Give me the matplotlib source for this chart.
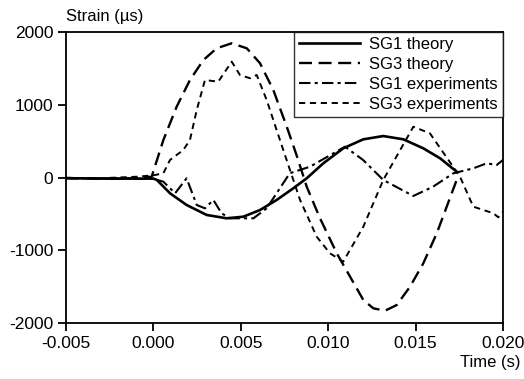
import matplotlib
matplotlib.use("Agg")
import matplotlib.pyplot as plt

plt.rcParams['font.family'] = ['Liberation Sans', 'DejaVu Sans']

# SG1 theory (solid)
t_sg1_th = [-0.005, -0.003, -0.001, 0.0, 0.0002, 0.00095, 0.0019, 0.00305, 0.00419, 0.00514,
            0.0061, 0.00705, 0.008, 0.00877, 0.00972, 0.01086, 0.01201, 0.01315, 0.0143,
            0.01544, 0.0164, 0.01735]
s_sg1_th = [-10, -15, -15, -15, -34, -217, -378, -515, -561, -539,
            -447, -309, -149, -11, 195, 401, 525, 570, 525,
            401, 264, 80]

# SG3 theory (long dash)
t_sg3_th = [-0.005, -0.003, -0.001, -0.0001, 0.00057, 0.00133, 0.00209, 0.00286, 0.00362,
            0.00448, 0.00534, 0.0061, 0.00686, 0.00763, 0.0082, 0.00877, 0.00953, 0.01049,
            0.01125, 0.01201, 0.01258, 0.01325, 0.01392, 0.01468, 0.01544, 0.01621, 0.01678,
            0.01735]
s_sg3_th = [-10, -15, -10, 11, 515, 973, 1340, 1615, 1776,
            1845, 1776, 1570, 1203, 698, 300, -126, -560, -1042,
            -1363, -1684, -1798, -1831, -1753, -1501, -1180, -767, -401,
            -34]

# SG1 experiments (dash-dot)
t_sg1_ex = [-0.005, -0.003, -0.001, 0.0, 0.00057, 0.00124, 0.0019, 0.00248, 0.00295, 0.00343,
            0.0039, 0.00438, 0.00572, 0.00648, 0.0078, 0.00896, 0.01096, 0.0120, 0.01315,
            0.01487, 0.0160, 0.01716, 0.0183, 0.01907, 0.01964, 0.02]
s_sg1_ex = [-5, -15, -20, -20, -57, -217, -11, -378, -424, -309,
            -492, -561, -561, -424, 58, 149, 423, 240, -34,
            -254, -126, 58, 126, 195, 172, 241]

# SG3 experiments (short dash)
t_sg3_ex = [-0.005, -0.003, -0.001, 0.0, 0.00057, 0.00095, 0.00171, 0.00209, 0.00248, 0.00295,
            0.00371, 0.00448, 0.00495, 0.00553, 0.00591, 0.00648, 0.00743, 0.00839, 0.00934,
            0.0101, 0.01086, 0.01201, 0.01315, 0.01487, 0.01582, 0.01754, 0.0183, 0.01945,
            0.01973, 0.02]
s_sg3_ex = [-5, -10, 10, 30, 58, 241, 378, 515, 928, 1340,
            1317, 1592, 1409, 1364, 1409, 1065, 378, -309, -813,
            -1042, -1157, -676, -34, 698, 607, 11, -401, -492,
            -547, -470]

x_ticks = [-0.005, 0.000, 0.005, 0.010, 0.015, 0.020]
x_labels = ["-0.005", "0.000", "0.005", "0.010", "0.015", "0.020"]
y_ticks = [-2000, -1000, 0, 1000, 2000]
y_labels = ["-2000", "-1000", "0", "1000", "2000"]

fig = plt.figure(figsize=(5.24, 3.79), dpi=100)
ax = fig.add_axes([66/524, 1 - 323/379, (503 - 66)/524, (323 - 32)/379])

ax.plot(t_sg1_th, s_sg1_th, color='black', lw=1.9, ls='-', label='SG1 theory')
ax.plot(t_sg3_th, s_sg3_th, color='black', lw=1.7, ls=(0, (5.5, 2.8)), label='SG3 theory')
ax.plot(t_sg1_ex, s_sg1_ex, color='black', lw=1.5, ls=(0, (5.5, 2, 1.5, 2)), label='SG1 experiments')
ax.plot(t_sg3_ex, s_sg3_ex, color='black', lw=1.4, ls=(0, (3.2, 2.4)), label='SG3 experiments')

ax.set_xlim(-0.005, 0.020)
ax.set_ylim(-2000, 2000)
ax.set_xticks(x_ticks)
ax.set_xticklabels(x_labels)
ax.set_yticks(y_ticks)
ax.set_yticklabels(y_labels)
ax.tick_params(direction='out', length=6, width=1.3, labelsize=12.5, pad=3,
               top=False, right=False)
for sp in ax.spines.values():
    sp.set_linewidth(1.3)

fig.text(66/524, 1 - 16/379, "Strain (\u00b5s)", ha='left', va='center', fontsize=12)
fig.text(520/524, 1 - 362/379, "Time (s)", ha='right', va='center', fontsize=12)

leg = ax.legend(loc='upper right', bbox_to_anchor=(1.0, 1.0), borderaxespad=0.0,
                fontsize=12, frameon=True, fancybox=False, handlelength=3.7,
                handletextpad=0.55, labelspacing=0.3, borderpad=0.3)
leg.get_frame().set_edgecolor('black')
leg.get_frame().set_linewidth(1.0)

fig.savefig("out.png", dpi=100)
